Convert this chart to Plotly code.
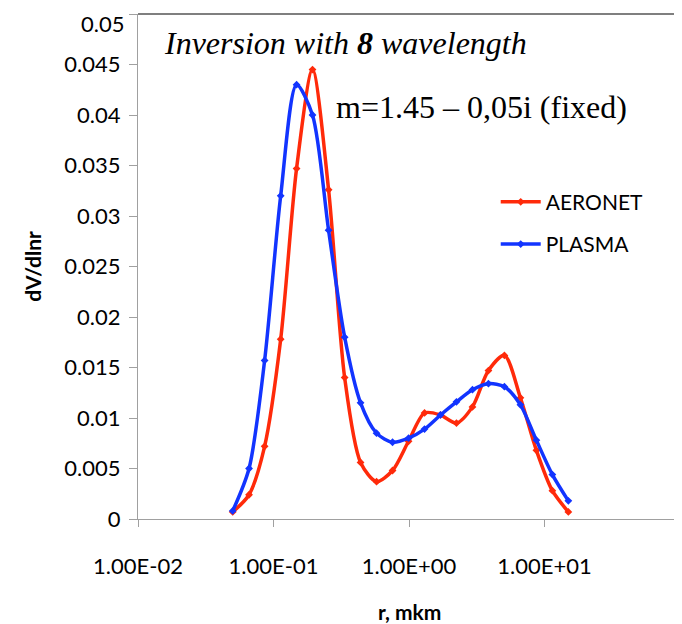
import plotly.graph_objects as go

radius = [0.050, 0.066, 0.086, 0.113, 0.148, 0.194, 0.255, 0.335, 0.439, 0.576, 0.756,
          0.992, 1.302, 1.708, 2.241, 2.940, 3.857, 5.061, 6.641, 8.713, 11.432, 15.000]

aeronet = [0.0007, 0.0024, 0.0072, 0.0178, 0.0347, 0.0445, 0.0326, 0.0140, 0.0056, 0.0037, 0.0048,
           0.0077, 0.0105, 0.0103, 0.0095, 0.0111, 0.0147, 0.0162, 0.0120, 0.0068, 0.0028, 0.0007]

plasma = [0.0008, 0.0050, 0.0157, 0.0320, 0.0430, 0.0400, 0.0286, 0.0180, 0.0115, 0.0085, 0.0076,
          0.0080, 0.0089, 0.0103, 0.0116, 0.0128, 0.0134, 0.0131, 0.0113, 0.0078, 0.0044, 0.0018]

x_tickvals = [0.01, 0.1, 1, 10]
x_ticktext = ["1.00E-02", "1.00E-01", "1.00E+00", "1.00E+01"]
y_tickvals = [0, 0.005, 0.01, 0.015, 0.02, 0.025, 0.03, 0.035, 0.04, 0.045, 0.05]
y_ticktext = ["0", "0.005", "0.01", "0.015", "0.02", "0.025", "0.03", "0.035", "0.04", "0.045", "0.05"]

RED = "#FF2A0A"
BLUE = "#1234FF"
SANS = "Lato, 'Open Sans', sans-serif"
SERIF = "'Liberation Serif', 'DejaVu Serif', serif"

fig = go.Figure()
fig.add_trace(go.Scatter(
    x=radius, y=aeronet, name="AERONET", mode="lines+markers",
    line=dict(color=RED, width=3.5, shape="spline", smoothing=0.8),
    marker=dict(symbol="diamond", size=6, color=RED),
    legendgroup="a",
))
fig.add_trace(go.Scatter(
    x=radius, y=plasma, name="PLASMA", mode="lines+markers",
    line=dict(color=BLUE, width=3.5, shape="spline", smoothing=0.8),
    marker=dict(symbol="diamond", size=6, color=BLUE),
    legendgroup="b",
))

# page body has an 8px margin, so the figure is 674x616 placed at (8, 8)
fig.update_layout(
    width=674, height=616,
    margin=dict(l=130, r=2, t=6, b=105),
    paper_bgcolor="white", plot_bgcolor="white",
    font=dict(family=SANS, size=20, color="black"),
    showlegend=True,
    legend=dict(x=0.660, y=0.668, xanchor="left", yanchor="top",
                font=dict(family=SANS, size=21, color="black"),
                bgcolor="rgba(0,0,0,0)", tracegroupgap=12, itemwidth=40),
    xaxis=dict(type="log", range=[-2, 2], tickvals=x_tickvals, ticktext=x_ticktext,
               showgrid=False, zeroline=False, showline=True, linecolor="#A0A0A0", linewidth=1.2,
               ticks="outside", ticklen=7, tickcolor="#A0A0A0", tickwidth=1.2,
               tickfont=dict(family=SANS, size=22), ticklabelstandoff=20),
    yaxis=dict(range=[0, 0.05], tickvals=y_tickvals, ticktext=y_ticktext,
               showgrid=False, zeroline=False, showline=True, linecolor="#A0A0A0", linewidth=1.2,
               ticks="outside", ticklen=8, tickcolor="#A0A0A0", tickwidth=1.2,
               tickfont=dict(family=SANS, size=22), ticklabelstandoff=4),
)

# top tick label (plotly drops it because it touches the figure edge)
fig.add_annotation(text=y_ticktext[-1], xref="paper", yref="y",
                   x=0, y=y_tickvals[-1], xanchor="right", yanchor="top",
                   xshift=-12, yshift=6, showarrow=False,
                   font=dict(family=SANS, size=22, color="black"))

# top and right border of the plot area
fig.add_shape(type="line", xref="paper", yref="paper", x0=0, x1=1, y0=1, y1=1,
              line=dict(color="#555555", width=1.5))
fig.add_shape(type="line", xref="paper", yref="paper", x0=1, x1=1, y0=0, y1=1,
              line=dict(color="#555555", width=1.5))

fig.add_annotation(text="<i>Inversion with <b>8</b> wavelength</i>", xref="paper", yref="paper",
                   x=0.045, y=0.942, xanchor="left", yanchor="middle", showarrow=False,
                   font=dict(family=SERIF, size=32, color="black"))
fig.add_annotation(text="m=1.45 – 0,05i (fixed)", xref="paper", yref="paper",
                   x=0.362, y=0.815, xanchor="left", yanchor="middle", showarrow=False,
                   font=dict(family=SERIF, size=32, color="black"))
fig.add_annotation(text="<b>r, mkm</b>", xref="paper", yref="paper",
                   x=0.5, y=-0.184, xanchor="center", yanchor="middle", showarrow=False,
                   font=dict(family=SANS, size=21, color="black"))
fig.add_annotation(text="<b>dV/dlnr</b>", xref="paper", yref="paper",
                   x=-0.195, y=0.5, xanchor="center", yanchor="middle", showarrow=False,
                   textangle=-90, font=dict(family=SANS, size=21, color="black"))

fig.write_html("out.html")
